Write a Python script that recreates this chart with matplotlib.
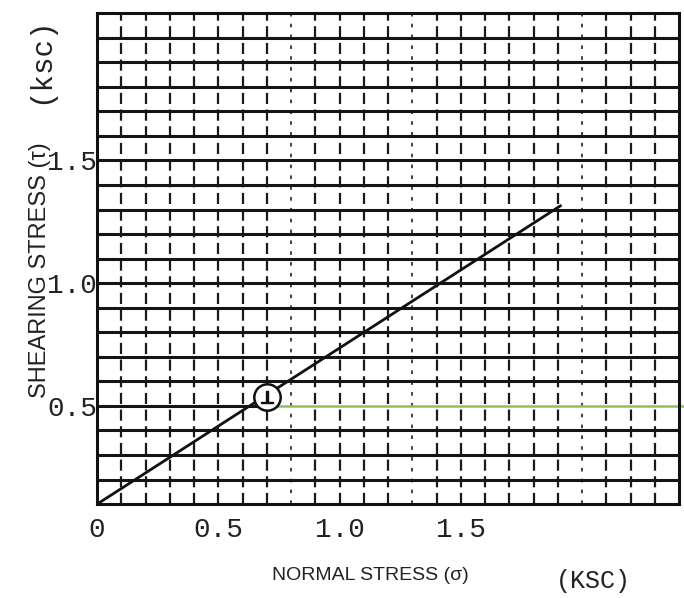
import matplotlib
matplotlib.use("Agg")
import matplotlib.pyplot as plt
import numpy as np

# test result and strength envelope (ksc)
normal_stress = [0.70]
shear_stress = [0.535]
envelope_x = [0.0, 1.91]
envelope_y = [0.10, 1.315]

x_ticks = [0.0, 0.5, 1.0, 1.5]
x_ticklabels = ["0", "0.5", "1.0", "1.5"]
y_ticks = [0.5, 1.0, 1.5]
y_ticklabels = ["0.5", "1.0", "1.5"]

# graph paper rulings
x_grid = np.round(np.arange(0.1, 2.35, 0.1), 2)
y_grid = np.round(np.arange(0.2, 2.05, 0.1), 2)
faint_cols = [0.8, 1.3, 2.0]
tinted_row = 0.5

fig = plt.figure(figsize=(6.84, 5.98), dpi=100)
ax = fig.add_axes([0.142, 0.157, 0.851, 0.821])
ax.set_xlim(0, 2.4)
ax.set_ylim(0.1, 2.1)

solid_cols = [c for c in x_grid if c not in faint_cols]
ax.vlines(solid_cols, 0.1, 2.1, colors="#1a1a1a", linewidth=1.6,
          linestyles=(0, (5, 2.5)), zorder=1)
ax.vlines(faint_cols, 0.1, 2.1, colors="#333333", linewidth=1.3,
          linestyles=(0, (2, 4)), zorder=1)
ax.hlines([r for r in y_grid if r != tinted_row], 0, 2.4, colors="#151515",
          linewidth=2.2, zorder=1)

# the 0.5 ruling came out tinted green right of the test point
ax.plot([0, 0.68], [tinted_row, tinted_row], color="#151515", linewidth=2.2, zorder=1)
ax.plot([0.68, 2.45], [tinted_row, tinted_row], color="#8fc15a", linewidth=1.8,
        clip_on=False, zorder=2)

ax.plot(envelope_x, envelope_y, color="#111111", linewidth=2.0, zorder=3)
ax.plot(normal_stress, shear_stress, "o", markersize=19, markerfacecolor="white",
        markeredgecolor="#111111", markeredgewidth=1.8, zorder=4)
ax.plot(normal_stress, shear_stress, marker=r"$\perp$", markersize=9,
        color="#111111", linestyle="none", zorder=5)

for s in ax.spines.values():
    s.set_linewidth(2.2)
    s.set_color("#111111")

ax.set_xticks(x_ticks)
ax.set_xticklabels(x_ticklabels, family="Liberation Mono", fontsize=20)
ax.set_yticks(y_ticks)
ax.set_yticklabels(y_ticklabels, family="Liberation Mono", fontsize=20)
ax.tick_params(length=0, pad=9, colors="#222222")
ax.tick_params(axis="y", pad=0)

fig.text(0.541, 0.038, "NORMAL STRESS (σ)", ha="center", va="center",
         family="Liberation Sans", fontsize=14, color="#222222")
fig.text(0.868, 0.028, "(KSC)", ha="center", va="center",
         family="Liberation Mono", fontsize=18, color="#222222")
fig.text(0.058, 0.548, "SHEARING STRESS (τ)", ha="center", va="center",
         rotation=90, family="Liberation Sans", fontsize=17, color="#222222")
fig.text(0.058, 0.90, "(ksc)", ha="center", va="center", rotation=90,
         family="Liberation Mono", fontsize=21, color="#222222")

fig.savefig("out.png", dpi=100, facecolor="white")
